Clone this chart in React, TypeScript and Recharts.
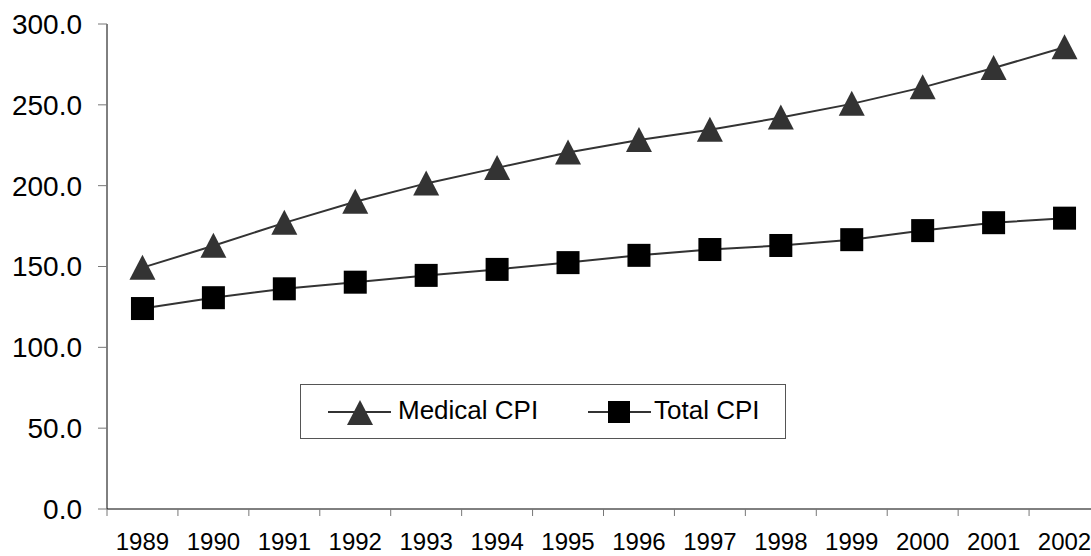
import React from 'react';
import { LineChart, Line, XAxis, YAxis } from 'recharts';

const years = ['1989', '1990', '1991', '1992', '1993', '1994', '1995', '1996', '1997', '1998', '1999', '2000', '2001', '2002'];
const medicalCpi = [149.3, 162.8, 177.0, 190.1, 201.4, 211.0, 220.5, 228.2, 234.6, 242.1, 250.6, 260.8, 272.8, 285.6];
const totalCpi = [124.0, 130.7, 136.2, 140.3, 144.5, 148.2, 152.4, 156.9, 160.5, 163.0, 166.6, 172.2, 177.1, 179.9];
const yTicks = [0, 50, 100, 150, 200, 250, 300];

const data = years.map((year, i) => ({ year, medical: medicalCpi[i], total: totalCpi[i] }));

const PLOT_LEFT = 107;
const PLOT_RIGHT = 1100;
const BAND = (PLOT_RIGHT - PLOT_LEFT) / years.length;
const FONT = 'Liberation Sans, Arial, sans-serif';

const Triangle = (props: any) => {
  const { cx, cy, index } = props;
  if (cx == null || cy == null) return null;
  return (
    <polygon
      key={`tri-${index}`}
      points={`${cx},${cy - 13} ${cx - 13},${cy + 12} ${cx + 13},${cy + 12}`}
      fill="#333"
    />
  );
};

const Square = (props: any) => {
  const { cx, cy, index } = props;
  if (cx == null || cy == null) return null;
  return <rect key={`sq-${index}`} x={cx - 11.5} y={cy - 11.5} width={23} height={23} fill="#000" />;
};

// ticks sit on category boundaries, labels in the middle
const YearTick = (props: any) => {
  const { x, y, payload } = props;
  const bx = x - BAND / 2;
  return (
    <g>
      <line x1={bx} y1={y} x2={bx} y2={y + 7} stroke="#777" strokeWidth={1} />
      <text x={x} y={y + 41} textAnchor="middle" fontSize={24} fontFamily={FONT} fill="#000">
        {payload.value}
      </text>
    </g>
  );
};

const LegendBox = () => (
  <div
    style={{
      position: 'absolute',
      left: 300,
      top: 384,
      width: 484,
      height: 53,
      border: '1px solid #555',
      background: '#fff',
      fontFamily: FONT,
      fontSize: 26,
      color: '#000',
    }}
  >
    <svg style={{ position: 'absolute', left: 27, top: 13 }} width={64} height={28}>
      <line x1={0} y1={14} x2={63} y2={14} stroke="#333" strokeWidth={2} />
      <polygon points="32,2 19,27 45,27" fill="#333" />
    </svg>
    <span style={{ position: 'absolute', left: 97, top: 10, lineHeight: '30px' }}>Medical CPI</span>
    <svg style={{ position: 'absolute', left: 287, top: 13 }} width={64} height={28}>
      <line x1={0} y1={14} x2={63} y2={14} stroke="#333" strokeWidth={2} />
      <rect x={20} y={3} width={22} height={22} fill="#000" />
    </svg>
    <span style={{ position: 'absolute', left: 353, top: 10, lineHeight: '30px' }}>Total CPI</span>
  </div>
);

const App: React.FC = () => {
  return (
    <div style={{ position: 'absolute', left: 0, top: 0, width: 1091, height: 556, overflow: 'hidden', background: '#fff' }}>
      <LineChart width={PLOT_RIGHT} height={556} data={data} margin={{ top: 24, right: 0, bottom: 0, left: 0 }}>
        <XAxis
          dataKey="year"
          height={47}
          stroke="#000"
          tickLine={false}
          tickSize={0}
          tickMargin={0}
          interval={0}
          padding={{ left: BAND / 2, right: BAND / 2 }}
          tick={<YearTick />}
        />
        <YAxis
          width={PLOT_LEFT}
          domain={[0, 300]}
          ticks={yTicks}
          stroke="#000"
          tickSize={9}
          tickMargin={16}
          tickLine={{ stroke: '#777' }}
          tickFormatter={(v: number) => v.toFixed(1)}
          tick={{ fontSize: 28, fontFamily: FONT, fill: '#000' }}
        />
        <Line
          dataKey="medical"
          name="Medical CPI"
          stroke="#333"
          strokeWidth={2}
          dot={<Triangle />}
          isAnimationActive={false}
        />
        <Line
          dataKey="total"
          name="Total CPI"
          stroke="#333"
          strokeWidth={2}
          dot={<Square />}
          isAnimationActive={false}
        />
      </LineChart>
      <LegendBox />
    </div>
  );
};

export default App;
